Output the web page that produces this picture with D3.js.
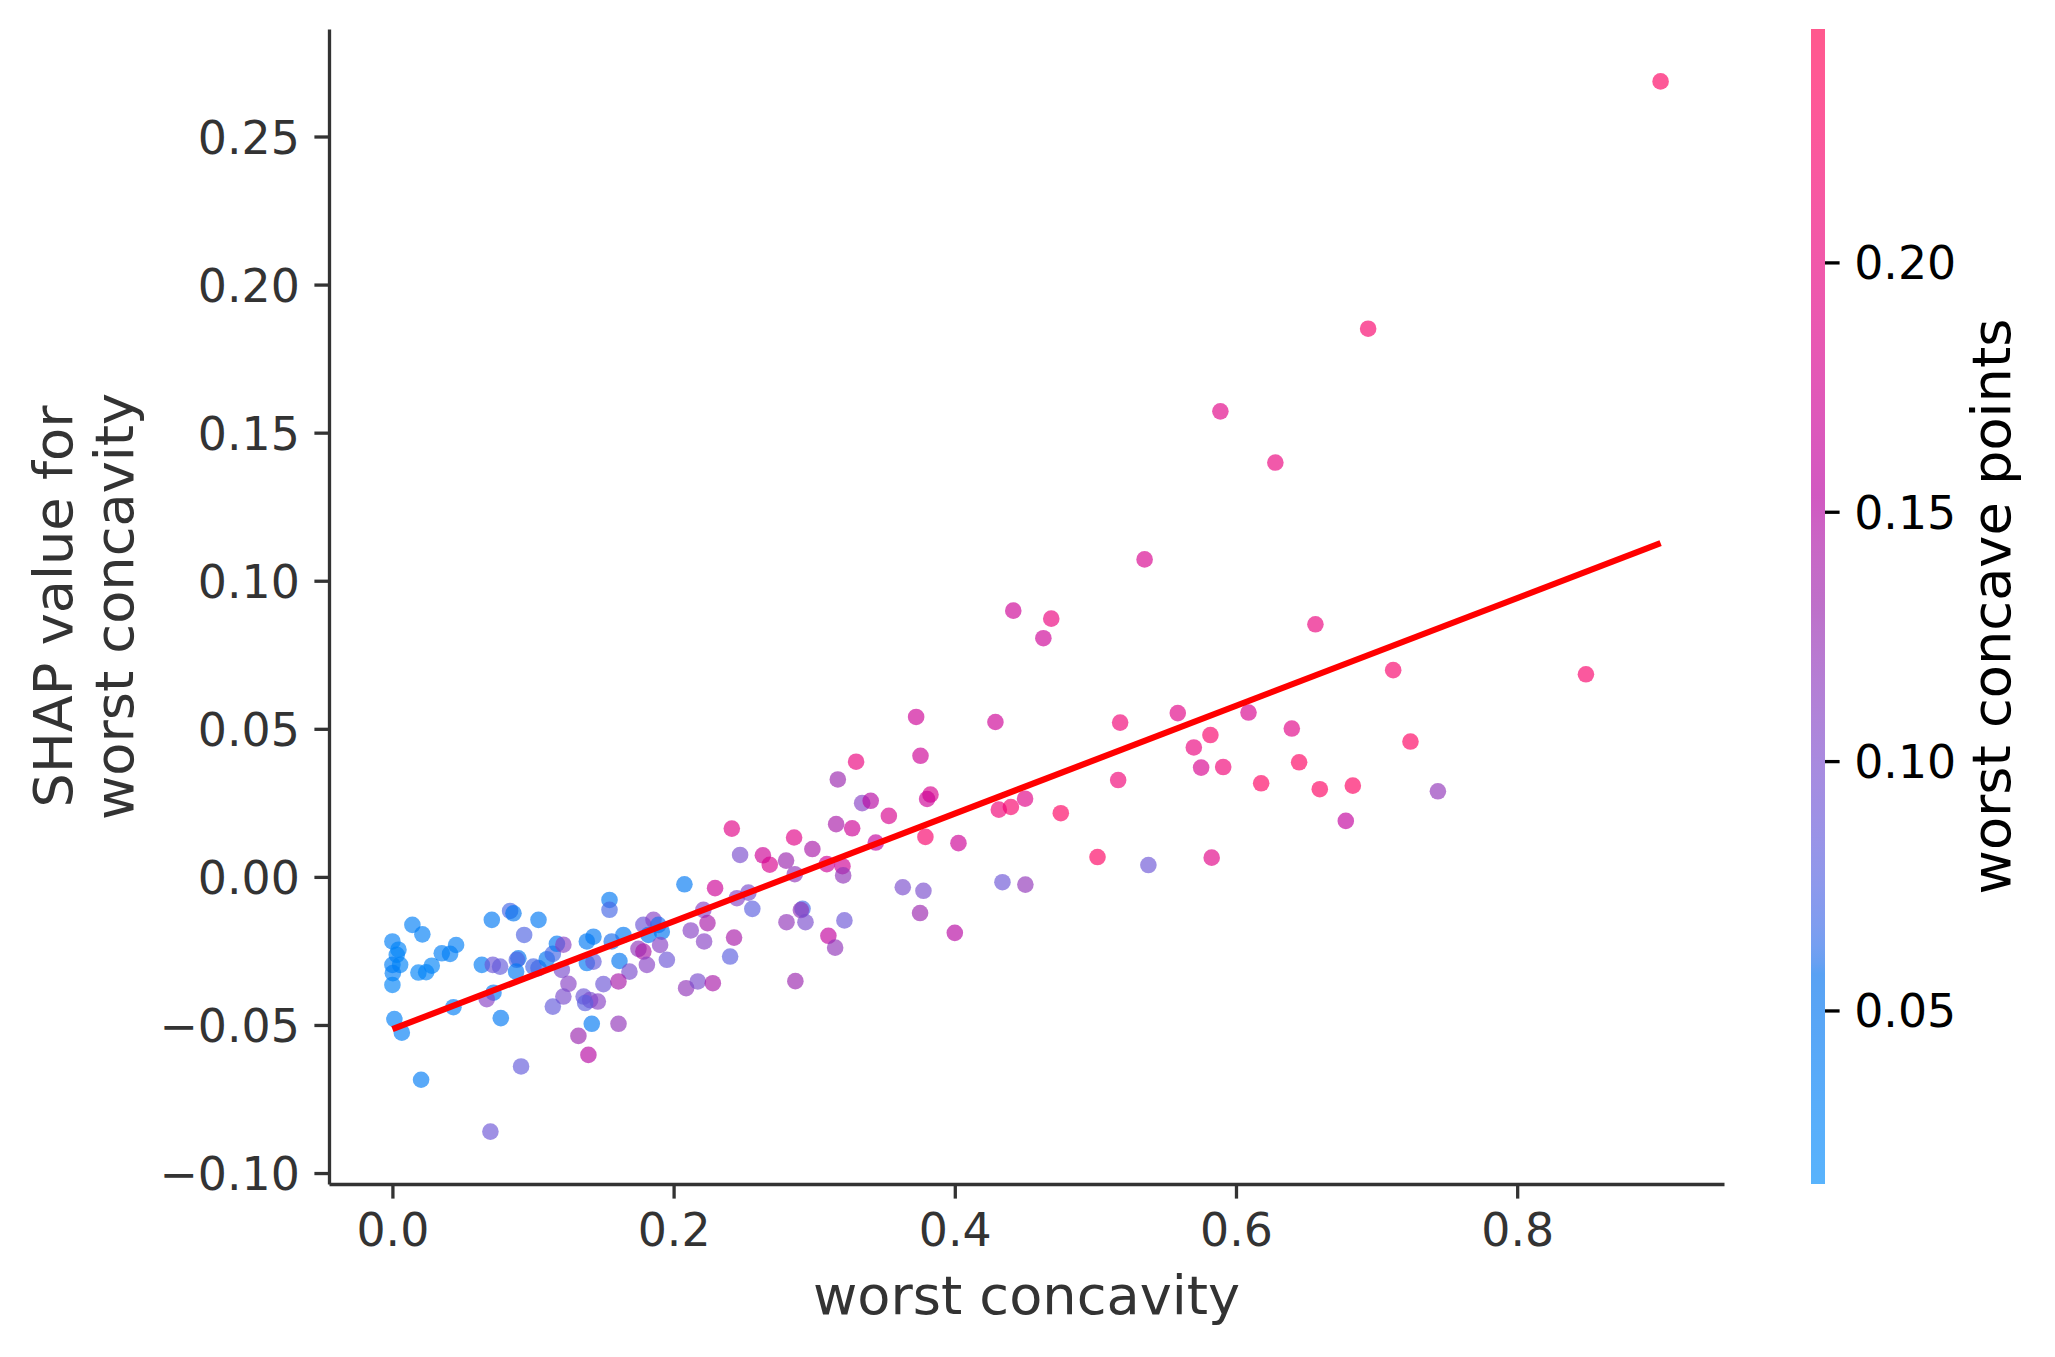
<!DOCTYPE html>
<html><head><meta charset="utf-8">
<script src="https://cdn.jsdelivr.net/npm/d3@7"></script>
<style>
body{margin:0;background:#fff}
svg{display:block}
text{font-family:"DejaVu Sans",sans-serif}
</style>
</head><body>
<svg id="chart" width="2055" height="1357"></svg>
<script>
// ---------------- data ----------------
const worstConcavity = [
 0.000,0.0043,0.0031,0.000,0.0055,0.0003,0.000,0.0014,0.0067,0.0142,
 0.0213,0.0185,0.0240,0.0280,0.0351,0.0410,0.0453,0.0204,0.0434,0.0636,
 0.0714,0.0766,0.0719,0.0671,0.0771,0.0915,0.0697,0.0707,0.0837,0.0861,
 0.0937,0.0896,0.0885,0.0880,0.1039,0.1039,0.1003,0.1098,0.1141,0.1170,
 0.1216,0.1205,0.1252,0.1216,0.1141,0.1383,0.1430,0.1383,0.1430,0.1360,
 0.1406,0.1461,0.1371,0.1501,0.1418,0.1608,0.1323,0.1394,0.1544,0.1544,
 0.1643,0.1560,0.1615,0.1686,0.1608,0.1785,0.1857,0.1892,0.1916,0.1821,
 0.1904,0.1750,0.1785,0.1952,0.1810,0.2077,0.2295,0.2450,0.2532,0.2560,
 0.2212,0.2241,0.2122,0.2217,0.2430,0.2402,0.2089,0.2172,0.2279,0.2414,
 0.2473,0.2635,0.2684,0.2800,0.2862,0.2917,0.2905,0.2803,0.2938,0.3215,
 0.3753,0.3101,0.3149,0.4000,0.2866,0.3630,0.3777,0.4339,0.4502,0.2857,
 0.2987,0.3090,0.3201,0.3206,0.3156,0.3270,0.3438,0.3791,0.4026,0.3168,
 0.3298,0.3341,0.3402,0.3531,0.3827,0.3803,0.3725,0.3756,0.4289,0.4500,
 0.4399,0.4313,0.4754,0.5162,0.5176,0.5015,0.5377,0.5827,0.5586,0.6089,
 0.5818,0.6397,0.5700,0.7241,0.5752,0.5909,0.6449,0.6179,0.6596,0.6831,
 0.7436,0.6781,0.5350,0.6565,0.7118,0.8489,0.9020,0.6940,0.6280,0.5889,
 0.4416,0.4686,0.4630
];
const shapValues = [
 -0.0218,-0.0246,-0.0263,-0.0297,-0.0297,-0.0325,-0.0365,-0.0480,-0.0526,-0.0162,
 -0.0194,-0.0323,-0.0322,-0.0300,-0.0258,-0.0260,-0.0230,-0.0685,-0.0440,-0.0297,
 -0.0297,-0.0303,-0.0391,-0.0413,-0.0477,-0.0640,-0.0860,-0.0145,-0.0115,-0.0123,
 -0.0196,-0.0275,-0.0280,-0.0320,-0.0145,-0.0308,-0.0303,-0.0278,-0.0260,-0.0226,
 -0.0229,-0.0314,-0.0361,-0.0404,-0.0438,-0.0218,-0.0202,-0.0291,-0.0286,-0.0404,
 -0.0416,-0.0421,-0.0426,-0.0362,-0.0496,-0.0496,-0.0537,-0.0601,-0.0078,-0.0111,
 -0.0196,-0.0218,-0.0284,-0.0320,-0.0353,-0.0162,-0.0145,-0.0162,-0.0185,-0.0196,
 -0.0230,-0.0243,-0.0252,-0.0280,-0.0297,-0.0025,-0.0038,-0.0072,-0.0053,-0.0108,
 -0.0111,-0.0156,-0.0181,-0.0218,-0.0205,-0.0269,-0.0376,-0.0353,-0.0359,0.0163,
 0.0074,0.0073,0.0041,0.0055,0.0009,-0.0108,-0.0112,-0.0153,-0.0153,-0.0147,
 -0.0122,-0.0199,-0.0239,-0.0189,-0.0352,-0.0035,-0.0047,-0.0018,-0.0026,0.0133,
 0.0094,0.0043,0.0036,0.0005,0.0178,0.0164,0.0116,0.0135,0.0114,0.0329,
 0.0389,0.0249,0.0257,0.0206,0.0278,0.0263,0.0540,0.0409,0.0523,0.0264,
 0.0236,0.0227,0.0215,0.0327,0.0521,0.0067,0.0040,0.0065,0.0553,0.0555,
 0.0479,0.0501,0.0437,0.0457,0.0369,0.0371,0.0387,0.0316,0.0296,0.0308,
 0.0289,0.0189,0.1072,0.0853,0.0698,0.0684,0.2686,0.1851,0.1399,0.1572,
 0.0899,0.0872,0.0806
];
const worstConcavePoints = [
 0.035,0.030,0.030,0.035,0.030,0.035,0.030,0.035,0.035,0.035,
 0.035,0.030,0.030,0.030,0.035,0.035,0.035,0.040,0.035,0.040,
 0.090,0.085,0.045,0.110,0.045,0.085,0.090,0.045,0.070,0.050,
 0.075,0.050,0.075,0.045,0.045,0.065,0.070,0.050,0.070,0.045,
 0.110,0.100,0.110,0.100,0.085,0.045,0.045,0.045,0.085,0.090,
 0.100,0.110,0.080,0.090,0.045,0.120,0.130,0.150,0.045,0.070,
 0.045,0.060,0.050,0.100,0.140,0.090,0.110,0.060,0.050,0.050,
 0.110,0.120,0.140,0.090,0.110,0.045,0.170,0.110,0.100,0.080,
 0.110,0.140,0.110,0.110,0.140,0.080,0.120,0.100,0.140,0.190,
 0.100,0.170,0.180,0.130,0.120,0.070,0.120,0.120,0.100,0.090,
 0.130,0.160,0.120,0.150,0.130,0.100,0.100,0.090,0.120,0.190,
 0.140,0.170,0.170,0.120,0.140,0.170,0.160,0.220,0.170,0.130,
 0.200,0.110,0.150,0.180,0.180,0.170,0.170,0.170,0.170,0.190,
 0.220,0.210,0.230,0.210,0.210,0.230,0.090,0.190,0.190,0.180,
 0.220,0.190,0.200,0.230,0.180,0.210,0.230,0.230,0.230,0.230,
 0.120,0.160,0.180,0.200,0.220,0.220,0.230,0.220,0.200,0.190,
 0.170,0.200,0.170
];
const fitX = [0, 0.902];
const fitY = [-0.0514, 0.1127];
const xTicks = [0, 0.2, 0.4, 0.6, 0.8];
const yTicks = [-0.10, -0.05, 0.00, 0.05, 0.10, 0.15, 0.20, 0.25];
const cTicks = [0.05, 0.10, 0.15, 0.20];
const xDomain = [-0.0451, 0.9471];
const yDomain = [-0.1037, 0.2863];
const cDomain = [0.0152, 0.2468];
const xLabel = "worst concavity";
const yLabelLines = ["SHAP value for", "worst concavity"];
const cLabel = "worst concave points";

// ---------------- SHAP red_blue colormap (LCH interpolation) ----------------
const blueLCH = [54, 70, 4.6588];
const redLCH = [54, 90, 0.35470565 + 2 * Math.PI];
const lMid = 40;
function lch2rgb(L, C, H) {
  const a = C * Math.cos(H), b = C * Math.sin(H);
  const fy = (L + 16) / 116, fx = fy + a / 500, fz = fy - b / 200;
  const finv = t => t > 0.2068966 ? t * t * t : (t - 16 / 116) / 7.787;
  const X = 0.95047 * finv(fx), Y = finv(fy), Z = 1.08883 * finv(fz);
  const lin = [
    3.2404542 * X - 1.5371385 * Y - 0.4985314 * Z,
    -0.9692660 * X + 1.8760108 * Y + 0.0415560 * Z,
    0.0556434 * X - 0.2040259 * Y + 1.0572252 * Z
  ];
  return lin.map(c => {
    let v = c <= 0.0031308 ? 12.92 * c : 1.055 * Math.pow(Math.max(c, 0), 1 / 2.4) - 0.055;
    return Math.max(0, Math.min(1, v)) * 255;
  });
}
const nSteps = 100;
const stops = d3.range(nSteps).map(i => {
  const t = i / (nSteps - 1);
  const half = nSteps / 2;
  const l = i < half ? blueLCH[0] + (lMid - blueLCH[0]) * i / (half - 1)
                     : lMid + (redLCH[0] - lMid) * (i - half) / (half - 1);
  const c = blueLCH[1] + (redLCH[1] - blueLCH[1]) * t;
  const h = blueLCH[2] + (redLCH[2] - blueLCH[2]) * t;
  return lch2rgb(l, c, h);
});
function cmap(t) {
  t = Math.max(0, Math.min(1, t));
  const p = t * (nSteps - 1);
  const i = Math.min(nSteps - 2, Math.floor(p));
  const f = p - i;
  const a = stops[i], b = stops[i + 1];
  return `rgb(${a.map((v, k) => Math.round(v + (b[k] - v) * f)).join(",")})`;
}

// ---------------- layout ----------------
const svg = d3.select("#chart");
const plot = {left: 329, right: 1724, top: 29, bottom: 1184};
const cbar = {left: 1811, width: 14};
const axisColor = "#333333";
const tickLen = 14.6, tickPad = 14.6, tickFont = 45.8, labelFont = 54.2;

const x = d3.scaleLinear().domain(xDomain).range([plot.left, plot.right]);
const y = d3.scaleLinear().domain(yDomain).range([plot.bottom, plot.top]);
const cScale = d3.scaleLinear().domain(cDomain).range([plot.bottom, plot.top]);
const cNorm = d3.scaleLinear().domain(cDomain).range([0, 1]);

// points
const pts = worstConcavity.map((v, i) => ({x: v, y: shapValues[i], c: worstConcavePoints[i]}));
svg.append("g").selectAll("circle").data(pts).join("circle")
  .attr("cx", d => x(d.x)).attr("cy", d => y(d.y)).attr("r", 8.3)
  .attr("fill", d => cmap(cNorm(d.c))).attr("fill-opacity", 0.65);

// fit line
svg.append("path")
  .datum(fitX.map((v, i) => [v, fitY[i]]))
  .attr("d", d3.line().x(d => x(d[0])).y(d => y(d[1])))
  .attr("fill", "none").attr("stroke", "#ff0000").attr("stroke-width", 6.2);

// axes
function styleAxis(g, color) {
  g.select(".domain").attr("stroke", color).attr("stroke-width", 3.3);
  g.selectAll(".tick line").attr("stroke", color).attr("stroke-width", 3.3);
  g.selectAll(".tick text").attr("fill", color).attr("font-size", tickFont)
    .attr("font-family", "DejaVu Sans");
}
const gx = svg.append("g").attr("transform", `translate(0,${plot.bottom})`)
  .call(d3.axisBottom(x).tickValues(xTicks).tickFormat(d3.format(".1f"))
    .tickSize(tickLen).tickPadding(tickPad).tickSizeOuter(0));
styleAxis(gx, axisColor);
const gy = svg.append("g").attr("transform", `translate(${plot.left},0)`)
  .call(d3.axisLeft(y).tickValues(yTicks).tickFormat(d3.format(".2f"))
    .tickSize(tickLen).tickPadding(tickPad).tickSizeOuter(0));
styleAxis(gy, axisColor);
gy.selectAll(".tick text").attr("dy", "0.36em");

// axis labels
svg.append("text").attr("x", (plot.left + plot.right) / 2).attr("y", 1314)
  .attr("text-anchor", "middle").attr("font-size", labelFont).attr("fill", axisColor)
  .text(xLabel);
const yMid = (plot.top + plot.bottom) / 2;
[72, 133].forEach((bx, i) => {
  svg.append("text").attr("transform", `translate(${bx},${yMid}) rotate(-90)`)
    .attr("text-anchor", "middle").attr("font-size", labelFont).attr("fill", axisColor)
    .text(yLabelLines[i]);
});

// colorbar
const defs = svg.append("defs");
const grad = defs.append("linearGradient").attr("id", "cbgrad")
  .attr("x1", 0).attr("y1", 1).attr("x2", 0).attr("y2", 0);
grad.selectAll("stop").data(d3.range(nSteps)).join("stop")
  .attr("offset", i => i / (nSteps - 1))
  .attr("stop-color", i => cmap(i / (nSteps - 1)));
svg.append("rect").attr("x", cbar.left).attr("y", plot.top)
  .attr("width", cbar.width).attr("height", plot.bottom - plot.top)
  .attr("fill", "url(#cbgrad)").attr("fill-opacity", 0.65);
const gc = svg.append("g").attr("transform", `translate(${cbar.left + cbar.width},0)`)
  .call(d3.axisRight(cScale).tickValues(cTicks).tickFormat(d3.format(".2f"))
    .tickSize(tickLen).tickPadding(tickPad).tickSizeOuter(0));
gc.select(".domain").remove();
gc.selectAll(".tick line").attr("stroke", "#000").attr("stroke-width", 3.3);
gc.selectAll(".tick text").attr("fill", "#000").attr("font-size", tickFont)
  .attr("font-family", "DejaVu Sans").attr("dy", "0.36em");
svg.append("text").attr("transform", `translate(2010,${yMid}) rotate(-90)`)
  .attr("text-anchor", "middle").attr("font-size", labelFont).attr("fill", "#000")
  .text(cLabel);
</script>
</body></html>
